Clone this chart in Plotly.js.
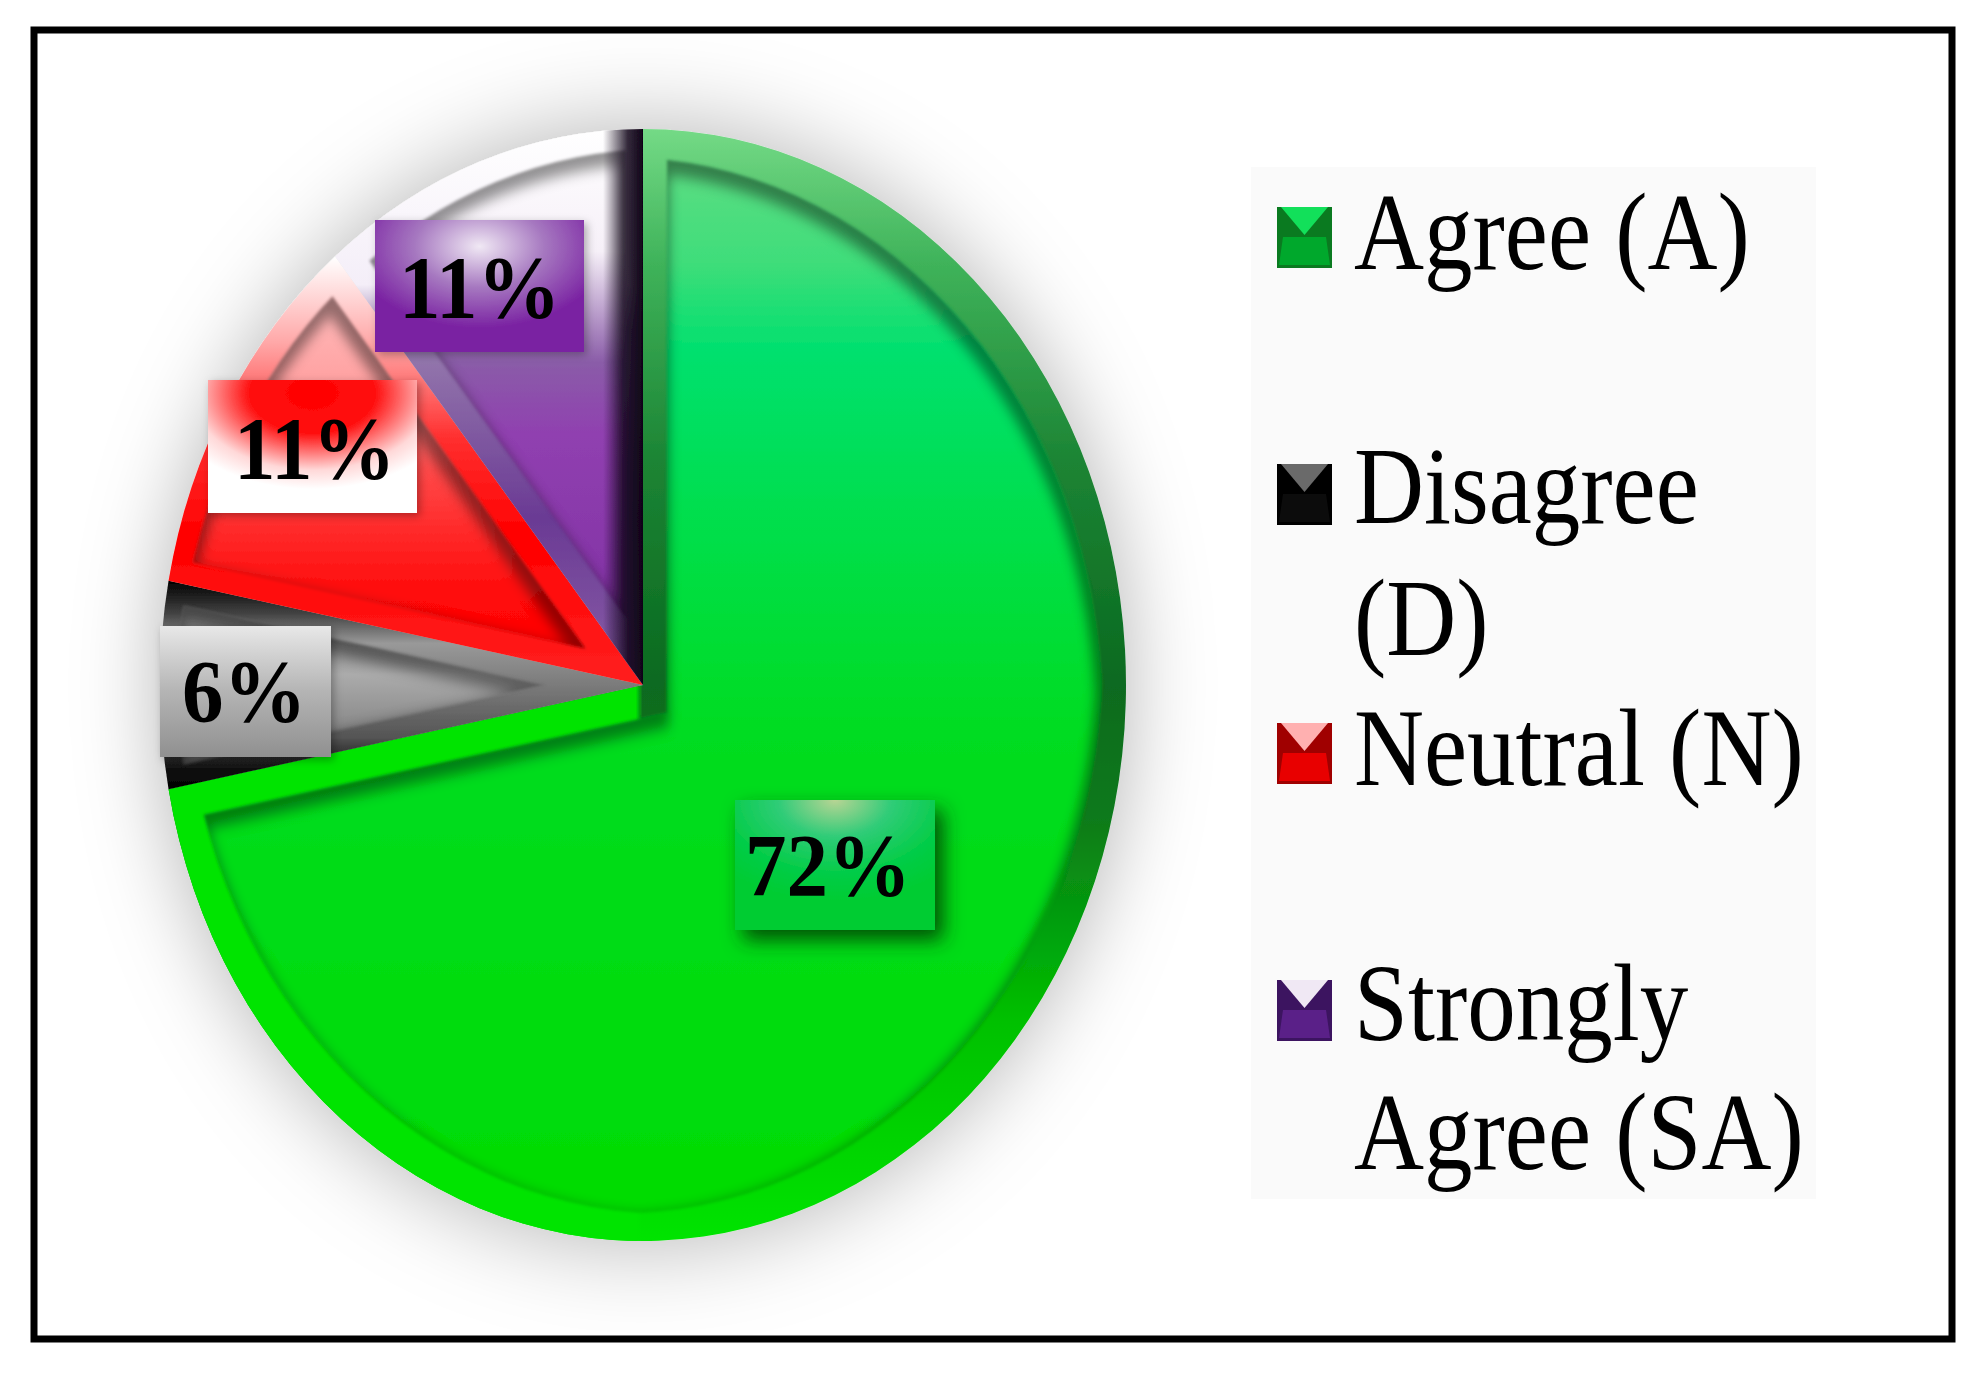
<!DOCTYPE html>
<html><head><meta charset="utf-8">
<script src="https://cdn.plot.ly/plotly-3.0.1.min.js"></script>
<style>html,body{margin:0;padding:0;background:#fff}#chart{width:1980px;height:1377px}</style>
</head><body>
<div id="chart"></div>
<svg width="0" height="0" style="position:absolute"><defs id="fx"></defs></svg>
<script>
// ---- data
const categories = ["Agree (A)", "Disagree (D)", "Neutral (N)", "Strongly Agree (SA)"];
const values = [72, 6, 11, 11];
const baseColors = ["#00dc00", "#808080", "#ff0000", "#8030a8"];
const legendLines = [["Agree (A)"], ["Disagree", "(D)"], ["Neutral (N)"], ["Strongly", "Agree (SA)"]];

// ---- layout constants (pixels of the 1980x1377 page)
const W = 1980, H = 1377;
const px = x => x / W, py = y => 1 - y / H;
const cx = 643, cy = 685, rx = 483, ry = 556;
const labelBoxes = [[735, 800, 935, 930], [160, 626, 331, 757], [208, 380, 417, 513], [375, 220, 584, 352]];
const labelCenters = [[828, 865], [244, 691], [314, 448], [479, 287]];
const swatchTops = [207, 464, 723, 980];
const legendBaselines = [[272], [525, 657], [787], [1042, 1171]];
const swatchPalette = [
  ["#0a7a20", "#00a82c", "#12e05a"],
  ["#000000", "#0c0c0c", "#6a6a6a"],
  ["#a00000", "#e80000", "#ffb0b0"],
  ["#3c1460", "#5a2088", "#f0e8f4"]
];

const shapes = [];
shapes.push({type: "rect", xref: "paper", yref: "paper", layer: "below", x0: px(34), x1: px(1952), y0: py(30), y1: py(1339),
             line: {color: "#000", width: 7}, fillcolor: "#fff"});
shapes.push({type: "rect", xref: "paper", yref: "paper", layer: "below", x0: px(1251), x1: px(1816), y0: py(167), y1: py(1199),
             line: {width: 0}, fillcolor: "#fafafa"});
labelBoxes.forEach((b, i) => shapes.push({type: "rect", xref: "paper", yref: "paper", layer: "above",
  x0: px(b[0]), x1: px(b[2]), y0: py(b[1]), y1: py(b[3]), line: {width: 0}, fillcolor: baseColors[i]}));
swatchTops.forEach((t, i) => {
  const l = 1277, r = 1332, b = t + 61, c = swatchPalette[i];
  const poly = (pts, col) => shapes.push({type: "path", xref: "paper", yref: "paper", layer: "above",
    path: "M" + pts.map(p => px(p[0]) + "," + py(p[1])).join("L") + "Z", line: {width: 0}, fillcolor: col});
  poly([[l, t], [r, t], [r, b], [l, b]], c[0]);
  poly([[l + 6, t + 30], [r - 6, t + 30], [r - 2, b - 3], [l + 2, b - 3]], c[1]);
  poly([[l + 4, t], [r - 4, t], [(l + r) / 2, t + 28]], c[2]);
});

const annotations = [];
labelCenters.forEach((c, i) => annotations.push({xref: "paper", yref: "paper", x: px(c[0]), y: py(c[1]), showarrow: false,
  xanchor: "center", yanchor: "middle", text: Math.round(values[i] / values.reduce((a, b) => a + b, 0) * 100) + "%",
  font: {family: "Liberation Serif", size: 83, color: "#000", weight: 700}}));
legendLines.forEach((lines, i) => lines.forEach((t, j) => annotations.push({xref: "paper", yref: "paper",
  x: px(1352), y: py(legendBaselines[i][j] - 39), showarrow: false, xanchor: "left", yanchor: "middle", text: t,
  font: {family: "Liberation Serif", size: 97, color: "#000"}})));

const trace = {type: "pie", labels: categories, values: values, sort: false, direction: "clockwise", rotation: 0,
  textinfo: "none", hoverinfo: "skip", showlegend: false,
  marker: {colors: baseColors, line: {width: 0}},
  domain: {x: [px(cx - rx), px(cx + rx)], y: [py(cy + rx), py(cy - rx)]}};

const layout = {width: W, height: H, margin: {l: 0, r: 0, t: 0, b: 0}, paper_bgcolor: "#fff", showlegend: false,
  shapes: shapes, annotations: annotations};

// ---- styling helpers (bevel / gloss of the picture)
const NS = "http://www.w3.org/2000/svg";
const defs = document.getElementById("fx");
function grad(id, stops, radial, attrs) {
  const g = document.createElementNS(NS, radial ? "radialGradient" : "linearGradient");
  g.id = id;
  const a = attrs || (radial ? {} : {x1: 0, y1: 0, x2: 0, y2: 1});
  Object.keys(a).forEach(k => g.setAttribute(k, a[k]));
  stops.forEach(s => { const e = document.createElementNS(NS, "stop");
    e.setAttribute("offset", s[0]); e.setAttribute("stop-color", s[1]);
    if (s.length > 2) e.setAttribute("stop-opacity", s[2]);
    g.appendChild(e); });
  defs.appendChild(g);
}
function rawDefs(str) {
  const t = document.createElementNS(NS, "g"); t.innerHTML = str;
  while (t.firstChild) defs.appendChild(t.firstChild);
}
function bodyFilter(id, r) {
  return `<filter id="${id}" x="-10%" y="-10%" width="120%" height="120%" color-interpolation-filters="sRGB">
    <feMorphology in="SourceAlpha" operator="erode" radius="${r}" result="e"/>
    <feGaussianBlur in="e" stdDeviation="1.5" result="mask"/>
    <feComposite in="SourceGraphic" in2="mask" operator="in" result="b"/>
    <feMorphology in="e" operator="erode" radius="4" result="e2"/>
    <feGaussianBlur in="e2" stdDeviation="6" result="e3"/>
    <feOffset in="e3" dx="-2" dy="8" result="e4"/>
    <feFlood flood-color="#000" flood-opacity="0.42" result="fl"/>
    <feComposite in="fl" in2="e4" operator="out" result="edge"/>
    <feComposite in="edge" in2="mask" operator="in" result="shade"/>
    <feMerge><feMergeNode in="b"/><feMergeNode in="shade"/></feMerge></filter>`;
}
rawDefs(bodyFilter("bev0", 24) + bodyFilter("bev1", 16) + bodyFilter("bev2", 17) + bodyFilter("bev3", 17) + `
  <filter id="halo" x="-30%" y="-30%" width="160%" height="160%">
    <feGaussianBlur in="SourceAlpha" stdDeviation="42" result="bl"/>
    <feFlood flood-color="#000" flood-opacity="0.3"/>
    <feComposite in2="bl" operator="in" result="sh"/>
    <feMerge><feMergeNode in="sh"/><feMergeNode in="SourceGraphic"/></feMerge></filter>
  <filter id="boxShadow" x="-20%" y="-20%" width="150%" height="150%">
    <feDropShadow dx="8" dy="10" stdDeviation="10" flood-color="#003000" flood-opacity="0.8"/></filter>
  <filter id="softShadow" x="-10%" y="-10%" width="125%" height="125%">
    <feDropShadow dx="3" dy="3" stdDeviation="4" flood-color="#000" flood-opacity="0.3"/></filter>`);

grad("rim0", [[0, "#74da86"], [0.12, "#3fb35a"], [0.3, "#1c8434"], [0.5, "#0a6a20"], [0.62, "#0a7a1a"], [0.8, "#00c000"], [1, "#00e400"]]);
grad("over0", [[0, "#00e400", 1], [0.488, "#00e400", 1], [0.495, "#00e400", 0], [1, "#00e400", 0]], false, {x1: 0, y1: 0, x2: 1, y2: 0});
grad("body0", [[0, "#66dd86"], [0.12, "#3fdd7a"], [0.2, "#00e06e"], [0.55, "#00dc20"], [1, "#00dc00"]]);
grad("rim1", [[0, "#000"], [0.16, "#444"], [0.3, "#999"], [0.75, "#555"], [0.9, "#111"], [1, "#000"]]);
grad("body1", [[0, "#666"], [0.45, "#ababab"], [0.7, "#8a8a8a"], [1, "#333"]]);
grad("rim2", [[0, "#fff"], [0.2, "#ffa8a8"], [0.42, "#ff3030"], [0.65, "#ff0000"], [1, "#ff2020"]]);
grad("body2", [[0, "#ffc8c8"], [0.3, "#ffa0a0"], [0.5, "#ff4848"], [0.8, "#ff0808"], [1, "#ff0000"]]);
grad("rim3", [[0, "#fff"], [0.28, "#f4eef8"], [0.36, "#9a80b0"], [0.7, "#6a3a94"], [1, "#8a60a8"]]);
grad("body3", [[0, "#fff"], [0.22, "#f6f0f8"], [0.42, "#8a5ca8"], [0.55, "#9040b0"], [1, "#7c2ca0"]]);
grad("over3", [[0, "#100418", 0], [0.87, "#100418", 0], [0.95, "#100418", 0.85], [1, "#100418", 1]], false, {x1: 0, y1: 0, x2: 1, y2: 0});

grad("box0", [[0, "#b8d494"], [0.35, "#30cc78"], [0.7, "#04cc48"], [1, "#00cc30"]], true, {cx: 0.5, cy: 0, r: 0.8});
grad("box1", [[0, "#e8e8e8"], [0.5, "#b4b4b4"], [1, "#909090"]]);
grad("box2", [[0, "#ff0000"], [0.42, "#ff1010"], [0.8, "#ffd8d8"], [1, "#ffffff"]], true, {cx: 0.5, cy: 0.1, r: 0.72});
grad("box3", [[0, "#f0e8f4"], [0.5, "#a678c0"], [1, "#7a22a2"]], true, {cx: 0.5, cy: 0.2, r: 0.62});

Plotly.newPlot("chart", [trace], layout, {displayModeBar: false, staticPlot: true}).then(() => {
  const root = document.getElementById("chart");
  const layer = root.querySelector(".pielayer");
  const k = ry / rx;
  layer.setAttribute("transform", `translate(0,${cy}) scale(1,${k}) translate(0,${-cy})`);
  layer.style.filter = "url(#halo)";
  root.querySelectorAll(".pielayer .slice").forEach((s, i) => {
    const p = s.querySelector("path.surface");
    p.style.fill = `url(#rim${i})`;
    const copy = (fill, filt) => {
      const c = p.cloneNode(true);
      c.removeAttribute("class");
      c.style.fill = `url(#${fill})`;
      if (filt) c.style.filter = `url(#${filt})`;
      s.appendChild(c);
    };
    if (i === 0) copy("over0");
    copy(`body${i}`, `bev${i}`);
    if (i === 3) copy("over3");
  });
  const upper = root.querySelectorAll(".layer-above .shapelayer path");
  for (let i = 0; i < labelBoxes.length; i++) {
    upper[i].style.fill = `url(#box${i})`;
    upper[i].style.fillOpacity = 1;
    upper[i].style.filter = i === 0 ? "url(#boxShadow)" : "url(#softShadow)";
  }
  root.querySelectorAll(".annotation text").forEach((t, i) => {
    t.style.transformBox = "fill-box";
    t.style.transformOrigin = "center";
    t.style.transform = `scaleY(${i < labelCenters.length ? 1.08 : 1.125})`;
  });
});
</script>
</body></html>
